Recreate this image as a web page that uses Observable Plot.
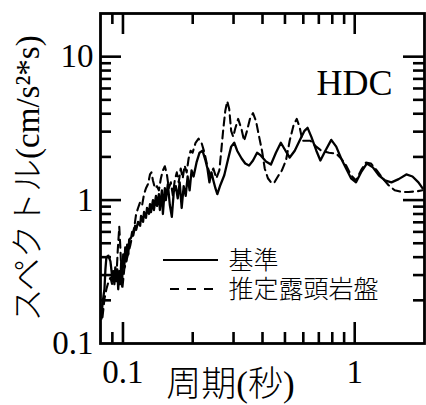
<!DOCTYPE html>
<html>
<head>
<meta charset="utf-8">
<script src="https://cdn.jsdelivr.net/npm/d3@7"></script>
<script src="https://cdn.jsdelivr.net/npm/@observablehq/plot@0.6"></script>
<style>
  html, body { margin: 0; padding: 0; background: #fff; }
</style>
</head>
<body>
<div id="chart"></div>
<script>
// Response spectra at station HDC: reference site vs. estimated outcrop bedrock
const solidPeriod = [0.0808,0.0816,0.0824,0.0832,0.084,0.0848,0.0865,0.0883,0.0891,0.090,
  0.0909,0.0918,0.0927,0.0936,0.0945,0.0954,0.0964,0.0973,0.0983,0.0993,
  0.1003,0.1013,0.1023,0.1033,0.1043,0.1054,0.1064,0.1085,0.1096,0.1107,
  0.1129,0.114,0.1162,0.1186,0.1197,0.1221,0.1233,0.1257,0.127,0.1295,
  0.1308,0.1321,0.1347,0.136,0.1388,0.1402,0.1429,0.1443,0.1472,0.1487,
  0.1516,0.1531,0.1562,0.1593,0.1625,0.1657,0.169,0.1723,0.1757,0.1792,
  0.1828,0.1865,0.1901,0.1939,0.1977,0.2017,0.2077,0.214,0.2204,0.227,
  0.2315,0.2361,0.2408,0.2455,0.2505,0.2554,0.263,0.2736,0.2846,0.293,
  0.302,0.311,0.325,0.337,0.350,0.364,0.379,0.394,0.414,0.435,
  0.457,0.480,0.497,0.524,0.551,0.578,0.607,0.626,0.650,0.683,
  0.711,0.747,0.792,0.832,0.874,0.918,0.964,1.013,1.064,1.129,
  1.197,1.27,1.35,1.44,1.547,1.67,1.775,1.883,1.96];
const solidAmp = [0.149,0.189,0.214,0.239,0.329,0.398,0.41,0.374,0.329,0.281,
  0.319,0.259,0.340,0.272,0.329,0.239,0.319,0.259,0.374,0.288,
  0.418,0.340,0.467,0.374,0.489,0.418,0.530,0.547,0.60,0.565,
  0.662,0.621,0.705,0.662,0.776,0.705,0.826,0.751,0.881,0.80,
  0.938,0.826,1.00,0.853,1.07,0.91,1.10,0.853,1.17,0.80,
  1.21,1.00,1.29,0.924,0.763,1.14,1.25,1.03,1.33,0.881,
  1.25,1.07,1.46,1.17,1.61,1.46,1.83,2.14,2.21,1.89,
  1.66,1.33,1.56,1.37,1.21,1.10,1.27,1.49,1.95,2.36,
  2.51,2.21,1.95,1.80,1.74,1.89,2.14,2.04,1.86,1.77,
  2.14,2.51,2.28,1.98,2.21,2.59,3.04,3.19,2.76,2.21,
  1.89,2.21,2.63,2.36,1.95,1.66,1.42,1.33,1.56,1.80,
  1.69,1.49,1.37,1.33,1.40,1.51,1.46,1.33,1.21];

const rockPeriod = [0.0816,0.0832,0.0848,0.0865,0.0883,0.090,0.0918,0.0936,0.095,0.0964,
  0.0973,0.0983,0.0993,0.1013,0.1043,0.1075,0.1096,0.1118,0.114,0.1162,
  0.1186,0.121,0.1233,0.1257,0.1282,0.1308,0.1327,0.1347,0.1374,0.1402,
  0.1429,0.1458,0.1487,0.1516,0.1547,0.1577,0.1609,0.1641,0.1673,0.1707,
  0.174,0.1775,0.181,0.1846,0.1883,0.192,0.1958,0.1997,0.2057,0.2119,
  0.2183,0.2247,0.2315,0.2384,0.2455,0.2529,0.2605,0.2656,0.271,0.2763,
  0.2818,0.2874,0.293,0.299,0.3049,0.314,0.3245,0.3333,0.343,0.353,
  0.364,0.375,0.386,0.398,0.409,0.422,0.435,0.448,0.466,0.485,
  0.505,0.524,0.545,0.562,0.578,0.595,0.62,0.644,0.676,0.718,
  0.775,0.832,0.874,0.918,0.964,1.013,1.064,1.118,1.174,1.245,
  1.32,1.40,1.487,1.59,1.707,1.85,1.96];
const rockAmp = [0.153,0.204,0.239,0.268,0.288,0.255,0.304,0.281,0.452,0.651,
  0.489,0.340,0.239,0.329,0.398,0.482,0.565,0.641,0.80,0.881,
  0.969,0.924,1.10,1.21,1.29,1.51,1.56,1.37,1.21,1.25,
  1.17,1.42,1.61,1.72,1.51,1.21,1.33,1.08,1.37,1.56,
  1.33,1.66,1.42,1.74,1.56,1.95,2.21,2.14,2.51,2.68,
  2.51,2.14,1.71,1.49,1.66,1.42,1.61,2.21,3.14,4.18,
  4.89,4.31,3.04,2.76,3.14,3.68,3.14,2.59,3.04,3.68,
  4.04,3.56,2.81,2.21,1.66,1.42,1.33,1.31,1.46,1.61,
  1.89,2.59,3.34,3.68,3.24,2.59,2.59,2.59,2.39,2.21,
  2.14,2.11,1.95,1.74,1.49,1.37,1.61,1.83,1.80,1.61,
  1.42,1.27,1.17,1.14,1.14,1.15,1.17];

const xMajorTicks = [0.1, 1];
const xMinorTicks = [0.09, 0.2, 0.3, 0.4, 0.5, 0.6, 0.7, 0.8, 0.9];
const yMajorTicks = [1, 10];
const yMinorTicks = [0.2, 0.3, 0.4, 0.5, 0.6, 0.7, 0.8, 0.9, 2, 3, 4, 5, 6, 7, 8, 9];
const xTickLabels = ["0.1", "1"];
const yTickValues = [0.1, 1, 10];
const yTickLabels = ["0.1", "1", "10"];

const seriesNames = ["基準", "推定露頭岩盤"];
const stationName = "HDC";
const xTitle = "周期(秒)";
const yTitle = "スペクトル(cm/s²*s)";

const solid = solidPeriod.map((p, i) => ({period: p, amp: solidAmp[i]}));
const rock = rockPeriod.map((p, i) => ({period: p, amp: rockAmp[i]}));

const W = 426, H = 405;
const mL = 100, mR = 2, mT = 13, mB = 62;
const innerH = H - mT - mB;
const innerW = W - mL - mR;
const major = 21, minor = 11;
const serif = "'Liberation Serif', 'Noto Sans CJK JP', serif";
const legendFont = "'Liberation Sans', 'Noto Sans CJK JP', sans-serif";

const tickStyle = {stroke: "black", strokeWidth: 2.6};
const legendRows = [260, 289];

const chart = Plot.plot({
  width: W,
  height: H,
  marginLeft: mL,
  marginRight: mR,
  marginTop: mT,
  marginBottom: mB,
  x: {type: "log", domain: [0.08, 2], axis: null},
  y: {type: "log", domain: [0.1, 20], axis: null},
  style: {fontFamily: serif, background: "white", color: "black"},
  marks: [
    // spectra
    Plot.line(solid, {x: "period", y: "amp", stroke: "black", strokeWidth: 2.3, clip: true}),
    Plot.line(rock, {x: "period", y: "amp", stroke: "black", strokeWidth: 2.1, strokeDasharray: "8,5", clip: true}),
    // inward ticks, bottom and top
    Plot.tickX(xMajorTicks, {x: d => d, insetTop: innerH - major, ...tickStyle}),
    Plot.tickX(xMinorTicks, {x: d => d, insetTop: innerH - minor, ...tickStyle}),
    Plot.tickX(xMajorTicks, {x: d => d, insetBottom: innerH - major, ...tickStyle}),
    Plot.tickX(xMinorTicks, {x: d => d, insetBottom: innerH - minor, ...tickStyle}),
    // inward ticks, left and right
    Plot.tickY(yMajorTicks, {y: d => d, insetRight: innerW - major, ...tickStyle}),
    Plot.tickY(yMinorTicks, {y: d => d, insetRight: innerW - minor, ...tickStyle}),
    Plot.tickY(yMajorTicks, {y: d => d, insetLeft: innerW - major, ...tickStyle}),
    Plot.tickY(yMinorTicks, {y: d => d, insetLeft: innerW - minor, ...tickStyle}),
    Plot.frame({stroke: "black", strokeWidth: 2.8}),
    // tick labels
    Plot.text(yTickValues, {y: d => d, text: (d, i) => yTickLabels[i], frameAnchor: "left",
      textAnchor: "end", lineAnchor: "middle", dx: -7, fontSize: 33, fill: "black"}),
    Plot.text(xMajorTicks, {x: d => d, text: (d, i) => xTickLabels[i], frameAnchor: "bottom",
      textAnchor: "middle", lineAnchor: "middle", dy: 29, fontSize: 33, fill: "black"}),
    // axis titles
    Plot.text([xTitle], {frameAnchor: "bottom", textAnchor: "middle", lineAnchor: "middle",
      dx: -32, dy: 41, fontSize: 35, fontWeight: 300, fill: "black"}),
    Plot.text([yTitle], {frameAnchor: "left", textAnchor: "middle", lineAnchor: "middle",
      rotate: -90, dx: -72, fontSize: 33, fontWeight: 300, fill: "black"}),
    // station name
    Plot.text([stationName], {frameAnchor: "top-right", textAnchor: "end", lineAnchor: "middle",
      dx: -32, dy: 70, fontSize: 36, fill: "black"}),
    // legend labels
    ...seriesNames.map((name, i) => Plot.text([name], {frameAnchor: "top-left", textAnchor: "start",
      lineAnchor: "middle", dx: 128, dy: legendRows[i] - mT, fontSize: 25, fontWeight: 300,
      fontFamily: legendFont, fill: "black"}))
  ]
});

// legend sample strokes
const svg = d3.select(chart);
const legend = svg.append("g").attr("stroke", "black").attr("fill", "none");
legend.append("line").attr("x1", 163).attr("x2", 218).attr("y1", legendRows[0]).attr("y2", legendRows[0])
  .attr("stroke-width", 2.2);
legend.append("line").attr("x1", 170).attr("x2", 218).attr("y1", legendRows[1]).attr("y2", legendRows[1])
  .attr("stroke-width", 2).attr("stroke-dasharray", "9,8");

document.getElementById("chart").appendChild(chart);
</script>
</body>
</html>
